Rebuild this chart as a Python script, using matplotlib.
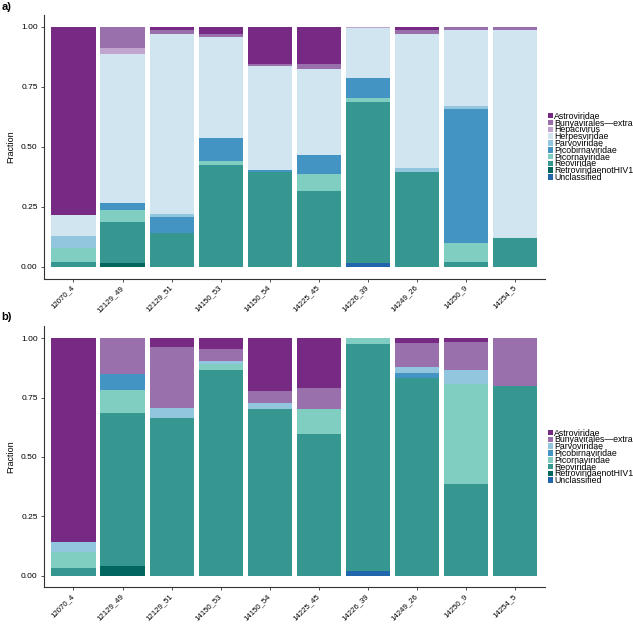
import matplotlib.pyplot as plt
import numpy as np

plt.rcParams['font.family'] = ['Liberation Sans', 'DejaVu Sans']

samples = ['12070_4', '12129_49', '12129_51', '14150_53', '14150_54',
           '14225_45', '14226_39', '14249_26', '14250_9', '14254_5']

families = ['Astroviridae', 'Bunyavirales\u2014extra', 'Hepacivirus', 'Herpesviridae',
            'Parvoviridae', 'Picobirnaviridae', 'Picornaviridae', 'Reoviridae',
            'RetroviridaenotHIV1', 'Unclassified']
family_colors = ['#762a83', '#9970ab', '#c2a5cf', '#d1e5f0', '#92c5de',
                 '#4393c3', '#80cdc1', '#35978f', '#01665e', '#2166ac']

# panel a) fractions per family, one value per sample
a_astro = [0.785, 0, 0.012, 0.028, 0.153, 0.154, 0, 0.014, 0, 0]
a_bunya = [0, 0.087, 0.019, 0.015, 0.011, 0.022, 0, 0.014, 0.012, 0.012]
a_hepaci = [0, 0.025, 0, 0, 0, 0, 0.003, 0, 0, 0]
a_herpes = [0.086, 0.620, 0.747, 0.419, 0.431, 0.359, 0.208, 0.561, 0.319, 0.866]
a_parvo = [0.049, 0, 0.013, 0, 0, 0, 0, 0.014, 0.012, 0]
a_picobirna = [0, 0.032, 0.066, 0.097, 0.010, 0.078, 0.086, 0, 0.559, 0]
a_picorna = [0.058, 0.049, 0, 0.017, 0, 0.071, 0.016, 0, 0.076, 0]
a_reo = [0.022, 0.169, 0.143, 0.424, 0.395, 0.316, 0.670, 0.397, 0.022, 0.122]
a_retro = [0, 0.018, 0, 0, 0, 0, 0, 0, 0, 0]
a_uncl = [0, 0, 0, 0, 0, 0, 0.017, 0, 0, 0]

# panel b)
b_astro = [0.859, 0, 0.037, 0.044, 0.222, 0.211, 0, 0.021, 0.018, 0]
b_bunya = [0, 0.150, 0.259, 0.050, 0.052, 0.088, 0, 0.101, 0.114, 0.202]
b_parvo = [0.041, 0, 0.039, 0.015, 0.025, 0, 0, 0.026, 0.062, 0]
b_picobirna = [0, 0.069, 0, 0, 0, 0, 0, 0.018, 0, 0]
b_picorna = [0.067, 0.097, 0, 0.024, 0, 0.105, 0.025, 0, 0.418, 0]
b_reo = [0.033, 0.645, 0.665, 0.867, 0.701, 0.596, 0.956, 0.834, 0.388, 0.798]
b_retro = [0, 0.039, 0, 0, 0, 0, 0, 0, 0, 0]
b_uncl = [0, 0, 0, 0, 0, 0, 0.019, 0, 0, 0]

panel_a = {'Astroviridae': a_astro, 'Bunyavirales\u2014extra': a_bunya,
           'Hepacivirus': a_hepaci, 'Herpesviridae': a_herpes,
           'Parvoviridae': a_parvo, 'Picobirnaviridae': a_picobirna,
           'Picornaviridae': a_picorna, 'Reoviridae': a_reo,
           'RetroviridaenotHIV1': a_retro, 'Unclassified': a_uncl}
panel_b = {'Astroviridae': b_astro, 'Bunyavirales\u2014extra': b_bunya,
           'Parvoviridae': b_parvo, 'Picobirnaviridae': b_picobirna,
           'Picornaviridae': b_picorna, 'Reoviridae': b_reo,
           'RetroviridaenotHIV1': b_retro, 'Unclassified': b_uncl}


def stacked(ax, data):
    x = np.arange(1, len(samples) + 1)
    bottom = np.zeros(len(samples))
    handles = {}
    # first family ends up on top, like ggplot
    for fam in reversed(list(data.keys())):
        vals = np.array(data[fam])
        col = family_colors[families.index(fam)]
        h = ax.bar(x, vals, bottom=bottom, width=0.9, color=col,
                   edgecolor='none', label=fam)
        handles[fam] = h
        bottom += vals
    ax.set_xlim(0.4, 10.6)
    ax.set_ylim(-0.05, 1.05)
    ax.set_xticks(x)
    ax.set_xticklabels(samples, rotation=45, ha='right', va='center',
                       rotation_mode='anchor', fontsize=5.6)
    ax.set_yticks([0, 0.25, 0.5, 0.75, 1.0])
    ax.set_yticklabels(['0.00', '0.25', '0.50', '0.75', '1.00'], fontsize=6)
    ax.set_ylabel('Fraction', fontsize=6.5, labelpad=4)
    ax.tick_params(length=2.5, width=0.6, pad=2, colors='#333333', labelcolor='black')
    ax.tick_params(axis='x', pad=3)
    for s in ['top', 'right']:
        ax.spines[s].set_visible(False)
    for s in ['left', 'bottom']:
        ax.spines[s].set_linewidth(0.8)
        ax.spines[s].set_color('#333333')
    order = list(data.keys())
    ax.legend([handles[f] for f in order], order, loc='center left',
              bbox_to_anchor=(1.0, 0.5), frameon=False, fontsize=6.3,
              handlelength=0.5, handleheight=0.6, handletextpad=0.2,
              labelspacing=-0.25, borderaxespad=0.4, borderpad=0)


fig = plt.figure(figsize=(6.33, 6.24), dpi=100)
ax_a = fig.add_axes([0.0695, 0.553, 0.791, 0.423])
ax_b = fig.add_axes([0.0695, 0.0585, 0.791, 0.4185])
stacked(ax_a, panel_a)
stacked(ax_b, panel_b)
fig.text(0.002, 0.988, 'a)', fontsize=8, fontweight='bold', va='center')
fig.text(0.002, 0.492, 'b)', fontsize=8, fontweight='bold', va='center')

fig.savefig('out.png', dpi=100)
